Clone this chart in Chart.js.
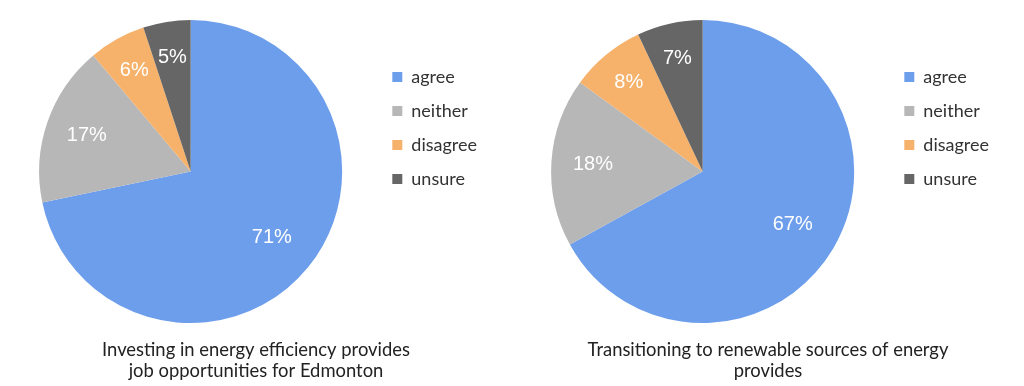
<!DOCTYPE html>
<html>
<head>
<meta charset="utf-8">
<script src="https://cdn.jsdelivr.net/npm/chart.js@4.4.1/dist/chart.umd.min.js"></script>
<style>
  html, body { margin: 0; padding: 0; background: #fff; }
  #wrap { position: relative; width: 1024px; height: 386px; }
  .pane { position: absolute; top: 0; width: 512px; height: 386px; }
</style>
</head>
<body>
<div id="wrap">
  <div class="pane" style="left:0"><canvas id="jobsChart" width="512" height="386"></canvas></div>
  <div class="pane" style="left:512px"><canvas id="renewChart" width="512" height="386"></canvas></div>
</div>
<script>
const categories = ['agree', 'neither', 'disagree', 'unsure'];
const jobsValues = [71, 17, 6, 5];
const renewValues = [67, 18, 8, 7];
const jobsTitle = ['Investing in energy efficiency provides', 'job opportunities for Edmonton'];
const renewTitle = ['Transitioning to renewable sources of energy', 'provides'];

const sliceColors = ['#6d9eeb', '#b7b7b7', '#f6b26b', '#666666'];

// white percentage labels inside each slice (thin slices get pushed a bit outward)
const sliceLabels = {
  id: 'sliceLabels',
  afterDatasetsDraw(chart) {
    const { ctx } = chart;
    const meta = chart.getDatasetMeta(0);
    const values = chart.data.datasets[0].data;
    const total = values.reduce((a, b) => a + b, 0);
    ctx.save();
    ctx.fillStyle = '#ffffff';
    ctx.font = '20px "Liberation Sans", Arial, sans-serif';
    ctx.textAlign = 'center';
    ctx.textBaseline = 'middle';
    meta.data.forEach((arc, i) => {
      const { x, y, startAngle, endAngle, outerRadius } = arc.getProps(['x', 'y', 'startAngle', 'endAngle', 'outerRadius'], true);
      const share = values[i] / total;
      const mid = (startAngle + endAngle) / 2;
      const r = outerRadius * (share > 0.5 ? 0.69 : share > 0.1 ? 0.725 : 0.765);
      ctx.fillText(values[i] + '%', x + Math.cos(mid) * r, y + Math.sin(mid) * r);
    });
    ctx.restore();
  }
};

function makePie(id, values, title) {
  return new Chart(document.getElementById(id), {
    type: 'pie',
    data: {
      labels: categories,
      datasets: [{
        data: values,
        backgroundColor: sliceColors,
        borderWidth: 0,
      }],
    },
    options: {
      responsive: false,
      animation: false,
      layout: { padding: { left: 25, right: 25, top: 20, bottom: 0 } },
      // empty spacer between pie and legend, so the title centres under the whole pane
      scales: {
        gap: {
          type: 'linear',
          position: 'right',
          grid: { display: false },
          border: { display: false },
          ticks: { display: false },
          afterFit(scale) { scale.width = 20; },
        },
      },
      plugins: {
        tooltip: { enabled: false },
        legend: {
          position: 'right',
          align: 'start',
          title: { display: true, text: '', font: { size: 12 }, padding: 8.8 },
          labels: {
            boxWidth: 10,
            boxHeight: 10,
            padding: 16,
            color: '#333333',
            font: { family: 'Lato', size: 18 },
          },
        },
        title: {
          display: true,
          position: 'bottom',
          text: title,
          color: '#222222',
          font: { family: 'Lato', size: 18.4, weight: 'normal', lineHeight: 1.14 },
          padding: { top: 16.5, bottom: 4.5 },
        },
      },
    },
    plugins: [sliceLabels],
  });
}

makePie('jobsChart', jobsValues, jobsTitle);
makePie('renewChart', renewValues, renewTitle);
</script>
</body>
</html>
